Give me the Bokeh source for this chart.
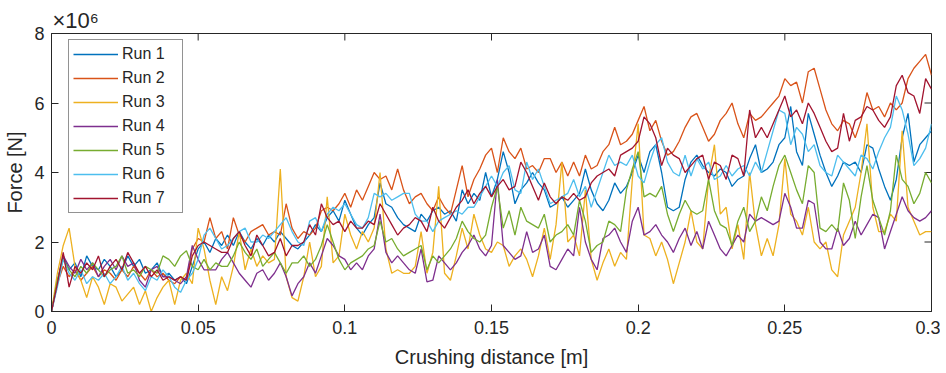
import numpy as np
from bokeh.plotting import figure
from bokeh.models import Range1d, FixedTicker, Legend, LegendItem, Title
from bokeh.embed import file_html
from bokeh.resources import INLINE

# Crushing distance [m], sampled every 2 mm
distance = np.round(np.arange(151) * 0.002, 3)

# Force values in units of 1e6 N
run1 = [
    0, 0.9, 1.6, 1.2, 1.4, 1.0, 1.6, 1.3, 1.2, 1.5,
    1.3, 1.0, 1.2, 1.6, 1.3, 1.5, 1.1, 1.2, 1.4, 1.0,
    1.1, 0.9, 1.0, 0.8, 1.3, 1.8, 2.0, 1.7, 2.1, 1.9,
    2.2, 1.9, 2.3, 2.0, 1.8, 2.1, 1.9, 2.2, 2.0, 2.3,
    2.1, 1.9, 1.8, 2.0, 2.2, 2.5, 2.3, 2.7, 2.9, 2.6,
    3.2, 2.8, 2.4, 2.2, 2.5, 2.7, 3.7, 3.1, 3.0, 2.7,
    2.5, 2.4, 2.3, 2.8, 2.6, 2.9, 3.0, 2.8, 2.9, 2.6,
    3.5, 3.1, 3.4, 3.2, 4.0, 3.3, 3.8, 4.6, 4.0, 3.1,
    3.5, 3.7, 4.0, 3.7, 3.5, 3.0, 3.1, 3.3, 3.0, 3.2,
    3.4, 4.1, 3.5, 3.1, 2.9, 3.2, 3.7, 3.4, 3.6, 4.0,
    4.5, 4.0, 4.6, 4.8, 4.0, 3.0, 2.9, 3.0, 3.8, 4.3,
    4.5, 4.2, 4.0, 3.9, 4.1, 4.0, 3.6, 3.8, 3.9, 4.4,
    4.8, 4.0, 4.1, 4.3, 4.8, 5.0, 5.9, 4.6, 4.2, 5.7,
    5.1, 4.5, 4.0, 3.6, 3.9, 4.3, 4.2, 4.3, 4.0, 4.8,
    4.7, 4.1, 3.6, 3.2, 3.8, 5.0, 5.7, 4.3, 4.8, 5.0, 5.2,
]
run2 = [
    0, 0.8, 1.3, 1.0, 1.2, 0.9, 1.1, 1.3, 1.0, 1.2,
    1.1, 0.9, 1.2, 1.0, 1.3, 1.1, 0.9, 1.2, 1.0, 1.1,
    0.9, 0.8, 1.0, 0.9, 1.8, 2.1, 2.0, 2.7, 2.1, 2.3,
    1.8, 2.7, 2.2, 2.0, 2.3, 2.4, 2.5, 2.2, 2.3, 2.2,
    3.1, 2.4, 2.1, 2.3, 2.2, 2.4, 2.9, 3.0, 2.9, 3.1,
    3.4, 3.0, 3.5, 3.2, 3.6, 4.0, 3.8, 3.9, 3.5, 4.1,
    3.5, 3.1, 3.3, 3.4, 3.1, 2.9, 3.3, 3.0, 2.8, 3.5,
    4.2, 3.3, 3.8, 4.1, 4.5, 4.7, 4.0, 5.0, 4.6, 4.4,
    4.7, 4.1, 4.2, 4.0, 4.4, 4.4, 4.0, 4.3, 3.9, 4.3,
    3.9, 4.5, 4.1, 4.2, 4.6, 4.8, 5.3, 4.8, 4.9, 5.1,
    5.5, 5.9, 5.2, 5.5, 4.9, 4.5, 4.6, 4.9, 5.3, 5.6,
    5.7, 5.3, 4.9, 5.1, 5.5, 5.7, 6.0, 5.4, 5.0, 5.7,
    5.5, 5.6, 5.8, 6.0, 6.2, 6.7, 6.5, 6.6, 6.0, 6.9,
    7.0, 6.4, 5.8, 5.4, 5.2, 5.5, 5.4, 5.0, 5.5, 6.3,
    5.8, 5.9, 5.6, 6.0, 5.8, 6.0, 6.7, 7.0, 7.2, 7.4, 6.8,
]
run3 = [
    0, 1.1, 1.9, 2.4, 1.3, 0.9, 0.4, 1.0, 0.7, 0.2,
    0.8, 0.7, 0.3, 0.5, 0.7, 0.2, 0.6, 0.0, 0.4, 0.7,
    0.9, 0.2, 0.9, 1.1, 0.8, 2.4, 1.8, 0.9, 0.2, 1.0,
    0.6, 1.3, 2.3, 1.2, 1.8, 1.3, 1.6, 1.4, 1.5, 4.1,
    1.0, 0.4, 0.3, 1.0, 2.0, 1.0, 1.3, 3.3, 1.4, 1.6,
    2.8, 2.2, 1.8, 2.3, 2.0, 2.4, 4.0, 1.8, 1.1, 1.2,
    1.1, 1.1, 1.3, 2.3, 1.1, 1.7, 3.6, 1.1, 0.9, 1.6,
    2.4, 1.8, 2.8, 2.2, 1.8, 1.7, 2.0, 1.9, 1.3, 1.6,
    1.8, 1.5, 1.0, 1.6, 2.4, 1.5, 2.5, 4.3, 2.0, 2.2,
    1.6, 3.5, 1.5, 0.9, 1.4, 1.8, 1.3, 1.7, 1.5, 3.8,
    5.4, 2.2, 2.1, 1.6, 2.0, 1.5, 0.8, 1.4, 2.0, 2.9,
    2.0, 1.8, 3.8, 4.8, 2.8, 3.0, 1.8, 2.5, 1.5, 4.0,
    2.5, 1.6, 2.1, 1.6, 2.5, 4.4, 2.8, 2.6, 2.2, 3.0,
    2.0, 1.8, 2.0, 1.2, 1.0, 2.2, 2.6, 3.0, 4.0, 5.4,
    3.0, 2.3, 2.3, 2.8, 2.6, 5.2, 3.0, 2.6, 2.2, 2.3, 2.3,
]
run4 = [
    0, 0.8, 1.6, 1.3, 1.1, 1.5, 1.2, 1.4, 1.0, 1.3,
    1.5, 1.2, 1.6, 1.3, 1.4, 0.9, 0.7, 1.2, 1.3, 1.0,
    1.0, 0.9, 0.8, 1.0, 1.9, 1.5, 1.2, 1.2, 1.2, 1.5,
    1.7, 1.4, 1.1, 0.9, 0.7, 1.1, 1.2, 0.9, 1.1, 1.4,
    1.0, 0.45, 0.8, 1.0, 1.4, 1.1, 1.6, 2.1, 1.9, 1.6,
    1.5, 1.2, 1.4, 1.2, 1.6, 1.8, 2.8, 1.7, 1.4, 1.6,
    1.4, 1.2, 1.1, 1.8, 0.85, 0.9, 1.6, 1.4, 1.2, 1.4,
    1.7, 1.9, 2.2, 1.8, 1.6, 1.9, 3.8, 1.9, 1.7, 1.5,
    1.6, 2.3, 1.7, 1.8, 2.2, 1.3, 1.2, 1.5, 1.8, 1.6,
    3.0, 2.0, 1.5, 1.2, 2.1, 2.2, 2.4, 2.0, 1.7, 2.6,
    3.0, 2.2, 2.3, 2.5, 2.2, 2.0, 1.7, 2.1, 2.4, 1.9,
    2.3, 1.8, 2.6, 2.2, 1.8, 1.6, 1.9, 2.2, 2.0, 2.8,
    2.6, 2.7, 2.6, 2.5, 2.6, 3.4, 3.0, 2.4, 2.4, 3.2,
    3.1, 2.0, 1.8, 1.8, 2.4, 1.9, 2.1, 2.6, 2.2, 2.5,
    2.8, 2.7, 1.8, 2.3, 2.8, 3.3, 2.9, 2.7, 2.6, 2.7, 2.9,
]
run5 = [
    0, 0.9, 1.5, 1.2, 1.0, 1.3, 1.1, 1.4, 1.2, 1.0,
    1.2, 1.3, 1.6, 1.1, 1.2, 1.0, 1.3, 1.2, 1.1, 1.6,
    1.5, 1.3, 1.6, 1.75, 1.3, 1.2, 1.5, 1.2, 1.4, 1.3,
    1.3, 1.6, 2.0, 1.7, 1.5, 1.8, 1.3, 1.5, 1.7, 1.4,
    1.1, 1.4, 1.4, 1.6, 1.3, 1.5, 1.9, 2.5, 2.0, 1.5,
    1.2, 1.4, 1.5, 1.6, 1.8, 1.9, 2.6, 2.0, 2.1, 1.8,
    1.6, 1.7, 1.8, 1.9, 1.2, 1.6, 1.4, 1.6, 1.8, 2.1,
    2.6, 2.3, 2.1, 2.0, 2.2, 3.0, 3.6, 2.4, 2.9, 2.2,
    3.0, 2.6, 2.5, 2.4, 2.8, 2.0, 2.2, 2.3, 2.5, 2.2,
    3.2, 2.6, 1.7, 1.9, 2.0, 2.6, 2.5, 2.3, 3.5, 4.1,
    4.6, 3.3, 3.4, 3.3, 3.6, 2.8, 2.3, 2.8, 3.2, 2.9,
    2.8, 2.9, 3.8, 2.9, 2.5, 2.4, 1.9, 2.6, 3.0, 2.3,
    2.6, 3.3, 2.9, 3.6, 4.2, 4.5, 4.0, 3.5, 3.1, 4.2,
    4.0, 2.4, 2.3, 2.5, 2.3, 3.7, 3.2, 2.1, 3.3, 4.2,
    3.2, 2.7, 2.2, 2.9, 4.5, 3.8, 3.6, 3.1, 3.4, 4.0, 3.7,
]
run6 = [
    0, 0.7, 1.5, 1.1, 0.9, 1.2, 0.8, 1.0, 0.9, 1.1,
    0.8, 1.0, 1.3, 0.9, 1.1, 0.8, 0.6, 1.0, 0.9, 1.2,
    1.0, 0.7, 0.55, 0.9, 1.1, 1.5, 2.2, 2.4, 2.1, 1.8,
    1.9, 2.1, 2.3, 2.4, 2.0, 2.0, 2.2, 2.1, 2.3, 2.5,
    2.7, 2.3, 2.0, 1.9, 2.6, 2.7, 2.3, 2.8, 3.0, 2.9,
    3.1, 2.8, 2.5, 2.4, 2.7, 3.4, 3.3, 3.4, 3.2, 3.3,
    3.4, 3.4, 2.8, 2.6, 2.6, 2.3, 2.6, 2.7, 2.8, 2.9,
    2.8, 3.0, 3.0, 3.3, 3.6, 3.9, 3.6, 4.0, 4.2, 3.5,
    3.4, 4.3, 3.8, 4.1, 3.6, 3.1, 3.2, 3.3, 3.4, 3.8,
    3.3, 3.6, 3.0, 3.5, 4.0, 4.5, 4.2, 4.3, 4.2, 4.5,
    3.9, 3.7, 4.3, 4.8, 5.0, 4.3, 4.0, 3.9, 4.5, 3.9,
    4.4, 4.1, 4.3, 3.8, 3.9, 4.2, 3.9, 4.1, 4.2, 3.9,
    4.3, 4.0, 4.6, 5.2, 5.8, 5.7, 4.8, 5.3, 5.1, 4.6,
    4.8, 4.2, 4.0, 3.9, 4.5, 4.3, 4.1, 3.9, 4.5, 4.4,
    4.1, 4.6, 5.0, 5.3, 6.2, 5.8, 5.1, 4.2, 4.4, 4.7, 5.4,
]
run7 = [
    0, 0.8, 1.7, 0.7, 1.3, 1.1, 1.4, 1.2, 1.6, 1.0,
    1.3, 1.5, 1.2, 1.7, 1.4, 1.1, 1.3, 1.0, 1.2, 0.9,
    1.0, 0.9, 1.0, 0.9, 1.6, 1.9, 2.0, 1.9, 1.8, 1.7,
    1.7, 2.1, 2.3, 1.9, 1.6, 2.2, 1.9, 1.6, 1.7, 2.1,
    1.6, 1.9, 1.9, 2.0, 2.5, 2.2, 3.1, 2.7, 2.5, 2.6,
    2.3, 2.6, 2.4, 2.4, 2.6, 2.5, 3.1, 2.8, 2.5, 2.2,
    2.4, 2.5, 2.7, 2.6, 2.3, 3.0, 2.6, 2.4, 2.7, 3.0,
    3.2, 3.5, 3.1, 3.4, 3.6, 3.3, 3.6, 3.8, 3.5, 3.6,
    4.3, 4.0, 3.6, 3.2, 3.7, 3.3, 3.1, 3.3, 3.2, 3.4,
    3.2, 3.3, 3.7, 3.9, 4.0, 4.1, 3.9, 4.5, 4.6, 4.7,
    4.9, 5.6, 5.4, 5.0, 4.2, 4.7, 4.5, 4.4, 4.0, 4.2,
    4.4, 4.5, 3.8, 4.3, 4.2, 3.8, 4.5, 4.4, 3.9, 5.8,
    5.0, 5.3, 5.0, 5.4, 5.8, 6.2, 5.6, 5.8, 5.4, 6.0,
    5.7, 5.3, 4.9, 4.6, 4.7, 5.7, 4.9, 5.5, 5.6, 5.9,
    5.8, 5.5, 5.3, 5.6, 6.5, 6.8, 6.3, 6.2, 5.7, 6.7, 6.4,
]

series_names = ["Run 1", "Run 2", "Run 3", "Run 4", "Run 5", "Run 6", "Run 7"]
series_values = [run1, run2, run3, run4, run5, run6, run7]
colors = ["#0072BD", "#D95319", "#EDB120", "#7E2F8E", "#77AC30", "#4DBEEE", "#A2142F"]

x_ticks = [0, 0.05, 0.1, 0.15, 0.2, 0.25, 0.3]
x_tick_labels = ["0", "0.05", "0.1", "0.15", "0.2", "0.25", "0.3"]
y_ticks = [0, 2, 4, 6, 8]
y_multiplier = "×10⁶"

X_MAX, Y_MAX = 0.3, 8
FRAME_W, FRAME_H = 880, 278
TICK_PX = 7
FONT = "Liberation Sans"
TXT = "#262626"

p = figure(width=940, height=371,
           x_range=Range1d(0, X_MAX), y_range=Range1d(0, Y_MAX),
           output_backend="svg", toolbar_location=None,
           min_border_left=51, min_border_right=9,
           min_border_top=33, min_border_bottom=60)
p.xgrid.visible = False
p.ygrid.visible = False
p.outline_line_color = TXT
p.outline_line_width = 1
p.background_fill_color = "white"
p.border_fill_color = "white"

# the "x10^6" multiplier above the top-left corner of the axes
p.add_layout(Title(text=y_multiplier, align="left", offset=1, standoff=1,
                   text_font=FONT, text_font_size="22px", text_font_style="normal",
                   text_color=TXT), "above")

xa = p.xaxis[0]
ya = p.yaxis[0]
xa.ticker = FixedTicker(ticks=x_ticks)
xa.major_label_overrides = {t: l for t, l in zip(x_ticks, x_tick_labels)}
ya.ticker = FixedTicker(ticks=y_ticks)
for ax in (xa, ya):
    ax.major_tick_in = TICK_PX
    ax.major_tick_out = 0
    ax.minor_tick_in = 0
    ax.minor_tick_out = 0
    ax.axis_line_color = TXT
    ax.major_tick_line_color = TXT
    ax.major_label_text_font = FONT
    ax.major_label_text_font_size = "18px"
    ax.major_label_text_color = TXT
    ax.axis_label_text_font = FONT
    ax.axis_label_text_font_size = "20px"
    ax.axis_label_text_font_style = "normal"
    ax.axis_label_text_color = TXT
xa.axis_label = "Crushing distance [m]"
ya.axis_label = "Force [N]"
xa.major_label_standoff = 9
xa.axis_label_standoff = 9
ya.major_label_standoff = 7
ya.axis_label_standoff = 5

# mirrored inward tick marks on the top and right edges of the box
dy = TICK_PX * Y_MAX / FRAME_H
dx = TICK_PX * X_MAX / FRAME_W
p.segment(x0=x_ticks, y0=[Y_MAX] * len(x_ticks), x1=x_ticks, y1=[Y_MAX - dy] * len(x_ticks),
          line_color=TXT, line_width=1)
p.segment(x0=[X_MAX] * len(y_ticks), y0=y_ticks, x1=[X_MAX - dx] * len(y_ticks), y1=y_ticks,
          line_color=TXT, line_width=1)

items = []
for name, vals, c in zip(series_names, series_values, colors):
    assert len(vals) == len(distance), name
    r = p.line(distance, vals, line_color=c, line_width=1.3)
    items.append(LegendItem(label=name, renderers=[r]))

legend = Legend(items=items, location=(17, 98), padding=4, spacing=4,
                label_height=20, glyph_height=20, glyph_width=45,
                label_standoff=4, label_width=56, margin=0,
                border_line_color=TXT, border_line_width=1,
                background_fill_color="white", background_fill_alpha=1,
                label_text_font=FONT, label_text_font_size="16px",
                label_text_color=TXT)
p.add_layout(legend)

open("out.html", "w").write(file_html(p, INLINE))
